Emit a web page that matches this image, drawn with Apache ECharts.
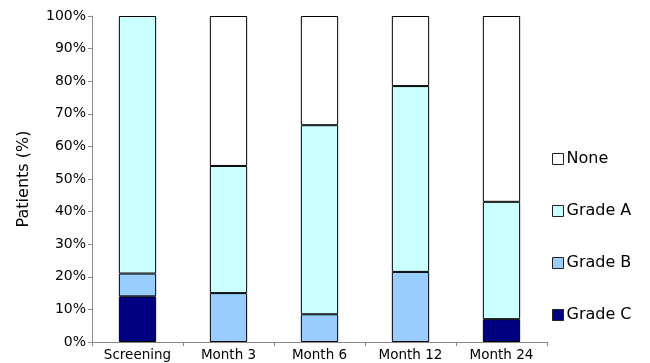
<!DOCTYPE html>
<html>
<head>
<meta charset="utf-8">
<script src="https://cdn.jsdelivr.net/npm/echarts@6/dist/echarts.min.js"></script>
<style>
  html, body { margin: 0; padding: 0; background: #fff; }
  #chart { width: 650px; height: 363px; }
</style>
</head>
<body>
<div id="chart"></div>
<script>
// Visits and share of patients by grade (percent)
var categories = ['Screening', 'Month 3', 'Month 6', 'Month 12', 'Month 24'];
var gradeC = [14, 0, 0, 0, 7];
var gradeB = [7, 15, 8.5, 21.5, 0];
var gradeA = [79, 39, 58, 57, 36];
var none   = [0, 46, 33.5, 21.5, 57];
var yTicks = [0, 10, 20, 30, 40, 50, 60, 70, 80, 90, 100];

var font = 'DejaVu Sans, Verdana, sans-serif';

// Empty segments are skipped so their outlines do not show as stray lines
function segments(values) {
  return values.map(function (v) { return v === 0 ? '-' : v; });
}

function bar(name, data, color) {
  return {
    name: name,
    type: 'bar',
    stack: 'total',
    data: segments(data),
    barWidth: '41%',
    itemStyle: { color: color, borderColor: '#000', borderWidth: 1 },
    emphasis: { disabled: true }
  };
}

var chart = echarts.init(document.getElementById('chart'), null, { renderer: 'canvas' });
chart.setOption({
  animation: false,
  grid: { left: 92, right: 103, top: 16, bottom: 21 },
  legend: {
    orient: 'vertical',
    left: 547,
    top: 146,
    itemGap: 36,
    itemWidth: 11,
    itemHeight: 11,
    icon: 'rect',
    itemStyle: { borderColor: '#222', borderWidth: 1 },
    textStyle: { fontFamily: font, fontSize: 16, lineHeight: 16, color: '#000', padding: [0, 0, 0, -2] },
    data: ['None', 'Grade A', 'Grade B', 'Grade C']
  },
  xAxis: {
    type: 'category',
    data: categories,
    axisLine: { lineStyle: { color: '#888' } },
    axisTick: { show: true, length: 4, lineStyle: { color: '#888' } },
    axisLabel: { fontFamily: font, fontSize: 13.5, color: '#000', margin: 6 }
  },
  yAxis: {
    type: 'value',
    min: yTicks[0],
    max: yTicks[yTicks.length - 1],
    interval: 10,
    name: 'Patients (%)',
    nameLocation: 'middle',
    nameGap: 60,
    nameTextStyle: { fontFamily: font, fontSize: 16, color: '#000' },
    axisLine: { show: true, lineStyle: { color: '#888' } },
    axisTick: { show: true, length: 4, lineStyle: { color: '#888' } },
    splitLine: { show: false },
    axisLabel: { fontFamily: font, fontSize: 14, color: '#000', margin: 6, formatter: '{value}%' }
  },
  series: [
    bar('Grade C', gradeC, '#000080'),
    bar('Grade B', gradeB, '#99ccff'),
    bar('Grade A', gradeA, '#ccffff'),
    bar('None', none, '#ffffff')
  ]
});
</script>
</body>
</html>
